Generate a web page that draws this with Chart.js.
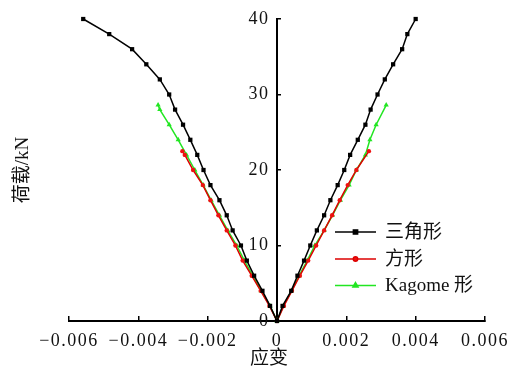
<!DOCTYPE html>
<html>
<head>
<meta charset="utf-8">
<script src="https://cdn.jsdelivr.net/npm/chart.js@4.4.0/dist/chart.umd.min.js"></script>
<style>
  body { margin: 0; background: #fff; }
  .wrap { width: 510px; height: 379px; position: relative; }
</style>
</head>
<body>
<div class="wrap"><canvas id="c" width="510" height="379"></canvas></div>
<script>
// --- data (strain, load in kN) ---
const triStrain = [-0.00559, -0.00484, -0.00418, -0.00377, -0.00338, -0.00311, -0.00294, -0.00271, -0.0025, -0.0023,
  -0.00212, -0.00192, -0.00166, -0.00145, -0.00128, -0.00104, -0.00087, -0.00066, -0.00042, -0.0002, 0,
  0.00016, 0.00041, 0.00059, 0.00078, 0.00096, 0.00115, 0.00136, 0.00154, 0.00175, 0.00194,
  0.00211, 0.00233, 0.00255, 0.0027, 0.0029, 0.00311, 0.00335, 0.00361, 0.00376, 0.004];
const triLoad = [40, 38, 36, 34, 32, 30, 28, 26, 24, 22, 20, 18, 16, 14, 12, 10, 8, 6, 4, 2, 0,
  2, 4, 6, 8, 10, 12, 14, 16, 18, 20, 22, 24, 26, 28, 30, 32, 34, 36, 38, 40];

const sqStrain = [-0.00273, -0.00266, -0.00242, -0.00214, -0.00192, -0.00169, -0.00145, -0.0012, -0.00099, -0.00073, -0.00047, -0.00022, 0,
  0.0002, 0.00043, 0.00066, 0.0009, 0.00113, 0.00136, 0.00159, 0.00181, 0.00204, 0.00229, 0.00265];
const sqLoad = [22.5, 22, 20, 18, 16, 14, 12, 10, 8, 6, 4, 2, 0,
  2, 4, 6, 8, 10, 12, 14, 16, 18, 20, 22.5];

const kagStrain = [-0.00343, -0.00338, -0.00311, -0.00285, -0.00261, -0.00237, -0.00213, -0.0019, -0.00166, -0.00142, -0.00116, -0.00094, -0.0007, -0.00046, -0.0002, 0,
  0.00018, 0.00042, 0.00064, 0.00087, 0.00109, 0.00136, 0.0016, 0.00183, 0.00208, 0.00229, 0.00255, 0.00268, 0.00286, 0.00315];
const kagLoad = [28.6, 28, 26, 24, 22, 20, 18, 16, 14, 12, 10, 8, 6, 4, 2, 0,
  2, 4, 6, 8, 10, 12, 14, 16, 18, 20, 22, 24, 26, 28.6];

const seriesNames = ['三角形', '方形', 'Kagome 形'];
const xTitle = '应变';
const yTitle = '荷载/kN';

const FONT = '"Liberation Serif", "Noto Sans CJK SC", serif';

function toPoints(xs, ys) {
  return xs.map((x, i) => ({ x: x, y: ys[i] }));
}

// custom legend + titles, drawn in place
const extras = {
  id: 'extras',
  beforeDraw(chart) {
    chart.ctx.letterSpacing = '1.5px';
  },
  afterDraw(chart) {
    const ctx = chart.ctx;
    ctx.save();
    ctx.letterSpacing = '0px';
    ctx.fillStyle = '#111';
    ctx.font = '19px ' + FONT;
    ctx.textAlign = 'center';
    ctx.textBaseline = 'middle';
    ctx.fillText(xTitle, 269, 359);
    ctx.translate(23, 170);
    ctx.rotate(-Math.PI / 2);
    ctx.fillText(yTitle, 0, 0);
    ctx.restore();

    // legend
    const rows = [232, 259, 285.5];
    ctx.save();
    ctx.letterSpacing = '0px';
    chart.data.datasets.forEach((ds, i) => {
      const y = rows[i];
      ctx.strokeStyle = ds.borderColor;
      ctx.lineWidth = 1.5;
      ctx.beginPath();
      ctx.moveTo(335, y);
      ctx.lineTo(376, y);
      ctx.stroke();
      ctx.fillStyle = ds.pointBackgroundColor;
      ctx.strokeStyle = ds.borderColor;
      Chart.helpers.drawPoint(ctx, { pointStyle: ds.pointStyle, radius: ds.pointRadius, borderWidth: 1, rotation: 0 }, 355.5, y);
      ctx.fillStyle = '#111';
      ctx.font = '19px ' + FONT;
      ctx.textAlign = 'left';
      ctx.textBaseline = 'middle';
      ctx.fillText(ds.label, 385, y + 1);
    });
    ctx.restore();
  }
};

new Chart(document.getElementById('c'), {
  type: 'scatter',
  data: {
    datasets: [
      {
        label: seriesNames[0],
        data: toPoints(triStrain, triLoad),
        showLine: true,
        clip: false,
        borderColor: '#000',
        backgroundColor: '#000',
        pointBackgroundColor: '#000',
        borderWidth: 1.5,
        pointStyle: 'rect',
        pointRadius: 3,
        pointBorderWidth: 0
      },
      {
        label: seriesNames[1],
        data: toPoints(sqStrain, sqLoad),
        showLine: true,
        clip: false,
        borderColor: '#dd0000',
        backgroundColor: '#ee1111',
        pointBackgroundColor: '#ee1111',
        borderWidth: 1.5,
        pointStyle: 'circle',
        pointRadius: 2.2,
        pointBorderWidth: 0
      },
      {
        label: seriesNames[2],
        data: toPoints(kagStrain, kagLoad),
        showLine: true,
        clip: false,
        borderColor: '#22e622',
        backgroundColor: '#22e622',
        pointBackgroundColor: '#22e622',
        borderWidth: 1.5,
        pointStyle: 'triangle',
        pointRadius: 3,
        pointBorderWidth: 0
      }
    ]
  },
  options: {
    responsive: false,
    animation: false,
    layout: { padding: { left: 69, right: 25, top: 19, bottom: 0 } },
    plugins: { legend: { display: false }, tooltip: { enabled: false } },
    scales: {
      x: {
        type: 'linear',
        min: -0.006,
        max: 0.006,
        afterFit(scale) {
          scale.height = 58;
          scale.paddingLeft = 0;
          scale.paddingRight = 0;
        },
        border: { display: true, color: '#000', width: 2 },
        grid: { display: true, drawOnChartArea: false, drawTicks: true, tickLength: -5, color: '#000', lineWidth: 1.5 },
        ticks: {
          stepSize: 0.002,
          padding: 14,
          color: '#111',
          font: { family: FONT, size: 18 },
          maxRotation: 0,
          callback: (v) => {
            if (Math.abs(v) < 1e-9) return '0';
            return (v < 0 ? '\u2212' : '') + Math.abs(v).toFixed(3);
          }
        }
      },
      y: {
        type: 'linear',
        min: 0,
        max: 40,
        position: { x: 0 },
        afterFit(scale) {
          scale.paddingTop = 0;
          scale.paddingBottom = 0;
        },
        border: { display: true, color: '#000', width: 2 },
        grid: { display: true, drawOnChartArea: false, drawTicks: true, tickLength: -5, color: '#000', lineWidth: 1.5 },
        ticks: {
          stepSize: 10,
          padding: 15,
          color: '#111',
          font: { family: FONT, size: 18 },
          // trailing space keeps the label clear of the axis line
          callback: (v) => String(v) + '\u2004'
        }
      }
    }
  },
  plugins: [extras]
});
</script>
</body>
</html>
